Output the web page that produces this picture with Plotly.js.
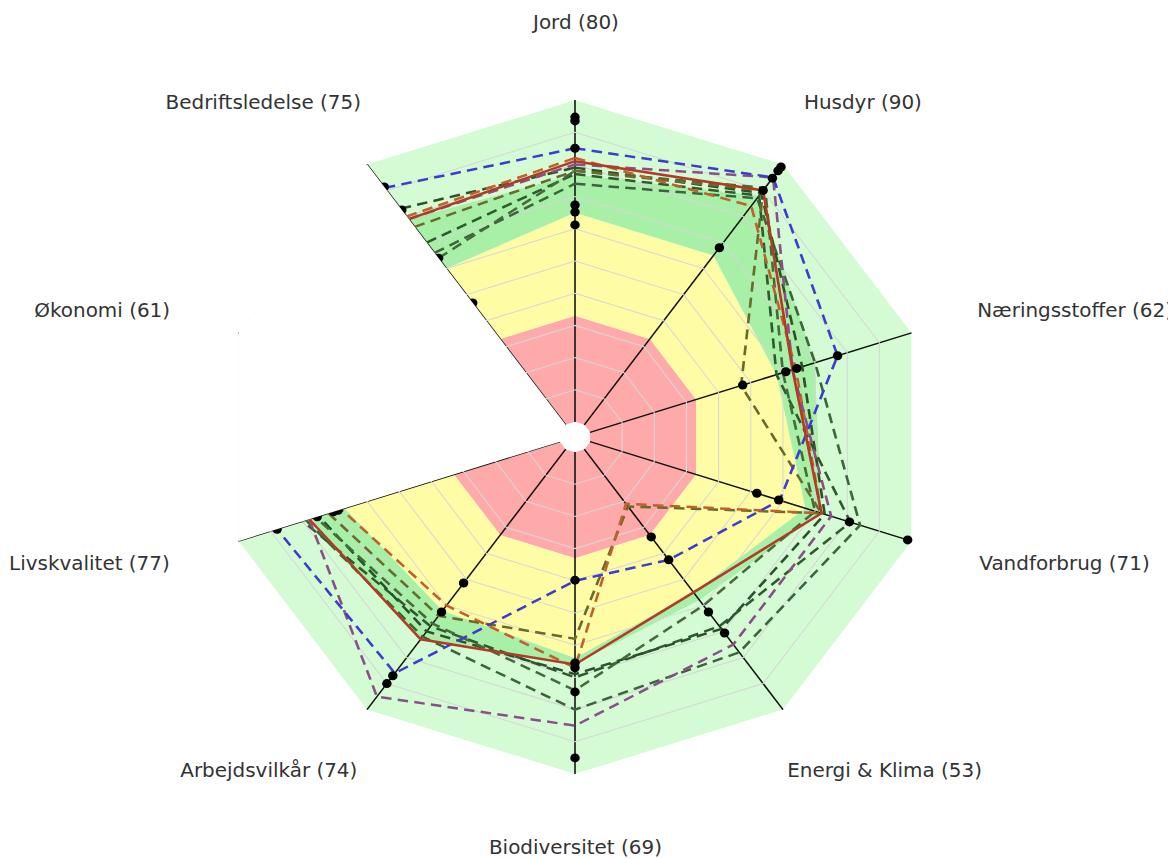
<!DOCTYPE html>
<html>
<head>
<meta charset="utf-8">
<script src="https://cdn.plot.ly/plotly-3.0.1.min.js"></script>
<style>
html,body{margin:0;padding:0;background:#fff;overflow:hidden;}
#chart{width:1168px;height:859px;transform:scaleX(1.05);transform-origin:575px 0;}
</style>
</head>
<body>
<div id="chart"></div>
<script>
// ---- categories (axis labels) ----
const axisLabels = ['Jord (80)','Husdyr (90)','Næringsstoffer (62)','Vandforbrug (71)','Energi & Klima (53)',
  'Biodiversitet (69)','Arbejdsvilkår (74)','Livskvalitet (77)','Økonomi (61)','Bedriftsledelse (75)'];

// ---- background zones (upper limit of each zone per axis) ----
const zoneRed    = [33, 33, 33, 33, 33, 33, 33, 33, 33, 33];
const zoneYellow = [65, 65, 58, 67, 55, 64, 62, 67, 60, 60];
const zoneGreen  = [77, 88, 70, 72, 58, 66, 73, 78, 78, 79];
const zoneLight  = [100,100,100,100,100,100,100,100,100,100];

// ---- series values (Økonomi missing) ----
const seriesBlue   = [85, 95, 77, 59, 42.5, 40, 86, 88, null, 91];
const seriesPurple = [80, 95, 63, 75, 75, 85, 95, 78, null, 79];
const seriesRed    = [81, 90, 63, 72, 55, 66, 73, 78, null, 79];
const seriesOrange = [82, 84, 64, 72, 21, 67, 60, 68, null, 80];
const seriesOlive  = [78, 90, 47, 72, 22, 58, 64, 72, null, 76];
const seriesGreen1 = [77, 88, 58, 81, 68, 70, 68, 80, null, 70];
const seriesGreen2 = [74, 87, 70, 84, 78, 80, 72, 79, null, 66];
const seriesGreen3 = [79, 89, 66, 73, 69, 69, 70, 75, null, 83];
const seriesGreen4 = [78, 91, 60, 70, 60, 74, 67, 76, null, 64];

// ---- individual result dots ----
const dotTheta = [
  'Jord (80)','Jord (80)','Jord (80)','Jord (80)','Jord (80)','Jord (80)',
  'Husdyr (90)','Husdyr (90)','Husdyr (90)','Husdyr (90)','Husdyr (90)',
  'Næringsstoffer (62)','Næringsstoffer (62)','Næringsstoffer (62)','Næringsstoffer (62)',
  'Vandforbrug (71)','Vandforbrug (71)','Vandforbrug (71)','Vandforbrug (71)',
  'Energi & Klima (53)','Energi & Klima (53)','Energi & Klima (53)','Energi & Klima (53)',
  'Biodiversitet (69)','Biodiversitet (69)','Biodiversitet (69)','Biodiversitet (69)','Biodiversitet (69)',
  'Arbejdsvilkår (74)','Arbejdsvilkår (74)','Arbejdsvilkår (74)','Arbejdsvilkår (74)',
  'Livskvalitet (77)','Livskvalitet (77)','Livskvalitet (77)','Livskvalitet (77)',
  'Bedriftsledelse (75)','Bedriftsledelse (75)','Bedriftsledelse (75)','Bedriftsledelse (75)'];
const dotR = [
  94.7, 93.5, 85, 67.4, 65.2, 61.2,
  99, 97.5, 94.7, 90, 68,
  77, 64.3, 60.9, 47.5,
  51.9, 58.7, 80.7, 98.8,
  33.7, 42.5, 62.5, 70.6,
  39.8, 65.5, 67, 74.5, 95,
  51.4, 62.5, 87, 90,
  88, 75.5, 70.5, 69,
  91.3, 82.5, 64, 46.8];

// ---- hidden sector ----
const hiddenTheta = ['Bedriftsledelse (75)','Bedriftsledelse (75)','Økonomi (61)','Livskvalitet (77)','Livskvalitet (77)'];
const hiddenR = [0, 100, 100, 100, 0];

function closed(a){ return a.concat([a[0]]); }
const thetaClosed = closed(axisLabels);

const traces = [];
const zeros = axisLabels.map(() => 0);
traces.push({type:'scatterpolar', subplot:'polar', r:closed(zeros), theta:thetaClosed, mode:'lines',
  line:{width:0,color:'rgba(0,0,0,0)'}, hoverinfo:'skip'});
[[zoneRed,'#ffaaaa'],[zoneYellow,'#fffca6'],[zoneGreen,'#a8f0a8'],[zoneLight,'#d4fbd4']].forEach(z => {
  traces.push({type:'scatterpolar', subplot:'polar', r:closed(z[0]), theta:thetaClosed, mode:'lines',
    fill:'tonext', fillcolor:z[1], line:{width:0,color:'rgba(0,0,0,0)'}, hoverinfo:'skip'});
});

const dashPat = '10px,6px';
const seriesDefs = [
  [seriesGreen1,'#2e5a2e',dashPat],
  [seriesGreen2,'#3b653b',dashPat],
  [seriesGreen3,'#2a522a',dashPat],
  [seriesGreen4,'#466a3a',dashPat],
  [seriesOlive,'#6a6a2c',dashPat],
  [seriesOrange,'#c0602c',dashPat],
  [seriesPurple,'#8a4f8a',dashPat],
  [seriesBlue,'#3c3cd0',dashPat],
  [seriesRed,'#b23a26','solid']
];
seriesDefs.forEach(s => {
  traces.push({type:'scatterpolar', subplot:'polar2', r:closed(s[0]), theta:thetaClosed, mode:'lines',
    connectgaps:false, line:{color:s[1], width:2.5, dash:s[2]}, hoverinfo:'skip'});
});
traces.push({type:'scatterpolar', subplot:'polar2', r:dotR, theta:dotTheta, mode:'markers',
  marker:{color:'#000', size:9}, hoverinfo:'skip'});
traces.push({type:'scatterpolar', subplot:'polar2', r:hiddenR, theta:hiddenTheta, mode:'lines',
  fill:'toself', fillcolor:'#ffffff', line:{width:0,color:'rgba(0,0,0,0)'}, hoverinfo:'skip'});

const R = 337, cx = 575, cy = 437, W = 1168, H = 859;
const dom = {x:[(cx-R)/W,(cx+R)/W], y:[(H-cy-R)/H,(H-cy+R)/H]};
const hole = 15/R;

// axis label placement (pixels, layout only)
const labelPx = [[575,22,'center'],[791,102,'left'],[956,310,'left'],[958,563,'left'],[775,770,'left'],
  [575,847,'center'],[370,770,'right'],[191,563,'right'],[191,310,'right'],[373,102,'right']];
const annotations = axisLabels.map((t,i) => ({
  text:t, xref:'paper', yref:'paper', x:labelPx[i][0]/W, y:1-labelPx[i][1]/H,
  xanchor:labelPx[i][2], yanchor:'middle', showarrow:false,
  font:{family:'DejaVu Sans', size:19, color:'#333'}
}));

const layout = {
  width:W, height:H, margin:{l:0,r:0,t:0,b:0}, paper_bgcolor:'#fff', showlegend:false,
  annotations:annotations,
  polar:{domain:dom, hole:hole, gridshape:'linear', bgcolor:'rgba(0,0,0,0)',
    radialaxis:{range:[0,100], visible:false},
    angularaxis:{direction:'clockwise', rotation:90, visible:false, categoryorder:'array', categoryarray:axisLabels}},
  polar2:{domain:dom, hole:hole, gridshape:'linear', bgcolor:'rgba(0,0,0,0)',
    radialaxis:{range:[0,100], dtick:10, showticklabels:false, ticks:'', showline:false,
      gridcolor:'#d6d6d6', gridwidth:1},
    angularaxis:{direction:'clockwise', rotation:90, categoryorder:'array', categoryarray:axisLabels,
      gridcolor:'#111', gridwidth:1.5, showline:false, ticks:'', showticklabels:false}}
};
Plotly.newPlot('chart', traces, layout, {staticPlot:true});
</script>
</body>
</html>
